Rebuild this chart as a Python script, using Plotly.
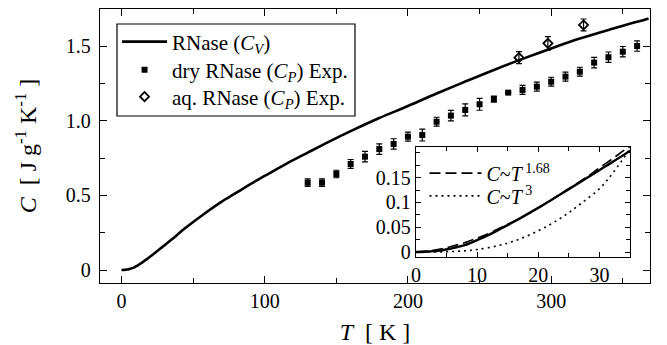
import plotly.graph_objects as go

# ---------------- data ----------------
# Calculated RNase C_V curve (main panel + inset)
cv_T = [0, 2, 4, 6, 8, 10, 12, 14, 16, 19, 22, 25, 28, 31, 35,
        45, 60, 70, 80, 90, 100, 115, 130, 145, 160, 180, 200, 220, 240,
        260, 280, 300, 320, 340, 360, 368]
cv_C = [0, 0.001, 0.003, 0.008, 0.014, 0.024, 0.035, 0.048, 0.061, 0.082,
        0.104, 0.127, 0.15, 0.173, 0.204,
        0.284, 0.392, 0.458, 0.516, 0.575, 0.63, 0.711, 0.786, 0.86, 0.93,
        1.018, 1.098, 1.182, 1.262, 1.34, 1.414, 1.484, 1.55, 1.608, 1.662, 1.685]

# Dry RNase C_P experiment
dry_T = [130, 140, 150, 160, 170, 180, 190, 200, 210, 220, 230, 240, 250, 260,
         270, 280, 290, 300, 310, 320, 330, 340, 350, 360]
dry_C = [0.585, 0.585, 0.643, 0.71, 0.759, 0.81, 0.844, 0.893, 0.904, 0.993,
         1.034, 1.072, 1.11, 1.145, 1.188, 1.206, 1.228, 1.261, 1.295, 1.328,
         1.389, 1.425, 1.462, 1.5]
dry_err = [0.025, 0.025, 0.025, 0.03, 0.035, 0.035, 0.035, 0.03, 0.04, 0.03,
           0.035, 0.04, 0.04, 0.02, 0.004, 0.03, 0.03, 0.03, 0.03, 0.03, 0.035,
           0.035, 0.035, 0.035]

# Aqueous RNase C_P experiment
aq_T = [277.5, 297.7, 322.6]
aq_C = [1.422, 1.518, 1.641]
aq_err = [0.04, 0.045, 0.04]

# Inset fits
fit168_T = [0, 2, 4, 6, 8, 10, 12, 14, 16, 18, 20, 22, 24, 26, 28, 30, 32, 34, 35]
fit168_C = [0, 0.002, 0.006, 0.012, 0.019, 0.028, 0.038, 0.05, 0.062, 0.075,
            0.089, 0.104, 0.12, 0.136, 0.152, 0.17, 0.187, 0.205, 0.213]
fit3_T = [0, 5, 8, 10, 13.5, 16, 19, 22, 24.6, 27, 30.2, 32.4, 35]
fit3_C = [0, 0.0006, 0.0025, 0.005, 0.013, 0.022, 0.037, 0.056, 0.076, 0.098,
          0.13, 0.163, 0.208]

# tick labels
x_ticks = [0, 100, 200, 300]
x_ticktext = ["0", "100", "200", "300"]
y_ticks = [0, 0.5, 1.0, 1.5]
y_ticktext = ["0", "0.5", "1.0", "1.5"]
ix_ticks = [0, 10, 20, 30]
ix_ticktext = ["0", "10", "20", "30"]
iy_ticks = [0, 0.05, 0.1, 0.15]
iy_ticktext = ["0", "0.05", "0.1", "0.15"]

# ---------------- figure ----------------
FONT = "Liberation Serif"
fig = go.Figure()

fig.add_trace(go.Scatter(
    x=cv_T, y=cv_C, mode="lines", line=dict(color="black", width=2.6, shape="spline"),
    name="RNase (<i>C</i><sub><i>V</i></sub>)", legend="legend"))
fig.add_trace(go.Scatter(
    x=dry_T, y=dry_C, mode="markers",
    marker=dict(symbol="square", size=6, color="black"),
    error_y=dict(type="data", array=dry_err, color="black", thickness=1.2, width=3),
    name="dry RNase (<i>C</i><sub><i>P</i></sub>) Exp.", legend="legend3"))
fig.add_trace(go.Scatter(
    x=aq_T, y=aq_C, mode="markers",
    marker=dict(symbol="diamond-open", size=7, color="black", line=dict(width=1.8)),
    error_y=dict(type="data", array=aq_err, color="black", thickness=1.2, width=3),
    name="aq. RNase (<i>C</i><sub><i>P</i></sub>) Exp.", legend="legend4"))

# inset
fig.add_trace(go.Scatter(
    x=cv_T, y=cv_C, mode="lines", line=dict(color="black", width=2.4, shape="spline"),
    xaxis="x2", yaxis="y2", showlegend=False))
fig.add_trace(go.Scatter(
    x=fit168_T, y=fit168_C, mode="lines",
    line=dict(color="black", width=1.6, dash="11px,5px", shape="spline"),
    xaxis="x2", yaxis="y2", name="<i>C</i>~<i>T</i><sup> 1.68</sup>", legend="legend2"))
fig.add_trace(go.Scatter(
    x=fit3_T, y=fit3_C, mode="lines",
    line=dict(color="black", width=1.6, dash="2px,4px", shape="spline"),
    xaxis="x2", yaxis="y2", name="<i>C</i>~<i>T</i><sup> 3</sup>", legend="legend5"))

axis_common = dict(showline=True, linecolor="black", linewidth=1.3, mirror="ticks",
                   ticks="inside", tickcolor="black", tickwidth=1.2,
                   showgrid=False, zeroline=False, automargin=False,
                   tickfont=dict(family=FONT, size=20, color="black"))


def leg(x, y, size, itemwidth):
    return dict(x=x, y=y, xanchor="left", yanchor="middle",
                bgcolor="rgba(0,0,0,0)", borderwidth=0,
                font=dict(family=FONT, size=size), itemwidth=itemwidth)


fig.update_layout(
    width=667, height=345,
    margin=dict(l=100, r=17, t=9, b=62),
    paper_bgcolor="white", plot_bgcolor="white",
    font=dict(family=FONT, size=20, color="black"),
    xaxis=dict(axis_common, range=[-15, 369], tickmode="array", tickvals=x_ticks,
               ticktext=x_ticktext, ticklen=7,
               minor=dict(tickvals=[50, 150, 250, 350], ticklen=5, ticks="inside",
                          tickcolor="black", tickwidth=1.2),
               title=dict(text="<i>T</i>  [ K ]", font=dict(family=FONT, size=24),
                          standoff=15)),
    yaxis=dict(axis_common, range=[-0.087, 1.748], tickmode="array", tickvals=y_ticks,
               ticktext=y_ticktext, ticklen=7, ticklabelstandoff=4,
               minor=dict(tickvals=[0.25, 0.75, 1.25], ticklen=5, ticks="inside",
                          tickcolor="black", tickwidth=1.2),
               title=dict(text="<i>C</i>  [ J g<sup>-1</sup> K<sup>-1</sup> ]",
                          font=dict(family=FONT, size=24), standoff=22)),
    xaxis2=dict(axis_common, domain=[0.5745, 0.9636], anchor="y2", range=[0, 35],
                tickmode="array", tickvals=ix_ticks, ticktext=ix_ticktext, ticklen=5,
                minor=dict(tickvals=[5, 15, 25, 35], ticklen=4, ticks="inside",
                           tickcolor="black", tickwidth=1.2)),
    yaxis2=dict(axis_common, domain=[0.0949, 0.4964], anchor="x2", range=[-0.01, 0.212],
                tickmode="array", tickvals=iy_ticks, ticktext=iy_ticktext, ticklen=5,
                minor=dict(tickvals=[0.025, 0.075, 0.125, 0.175, 0.2], ticklen=4,
                           ticks="inside", tickcolor="black", tickwidth=1.2)),
    legend=leg(0.031, 0.8796, 21, 45),
    legend3=leg(0.031, 0.7774, 21, 45),
    legend4=leg(0.031, 0.6788, 21, 45),
    legend2=leg(0.59, 0.401, 20, 52),
    legend5=leg(0.59, 0.318, 20, 52),
    shapes=[dict(type="rect", xref="paper", yref="paper",
                 x0=0.0309, x1=0.4636, y0=0.6095, y1=0.9453,
                 line=dict(color="black", width=1.2), fillcolor="white", layer="above")],
    showlegend=True,
)

fig.write_html("out.html", config={"displayModeBar": False},
               post_script="document.body.style.margin='0';")
